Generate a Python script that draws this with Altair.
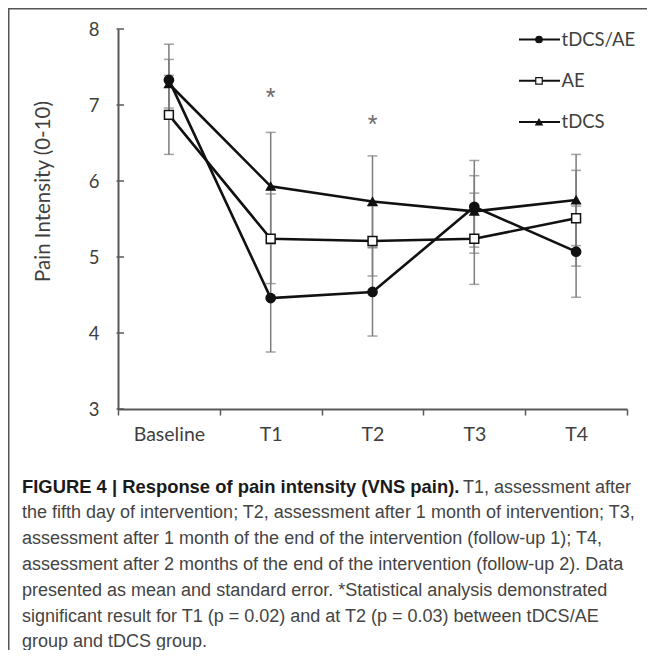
import altair as alt
import pandas as pd

# ---------------- data ----------------
categories = ["Baseline", "T1", "T2", "T3", "T4"]
series_names = ["tDCS/AE", "AE", "tDCS"]
tdcs_ae_mean = [7.33, 4.46, 4.54, 5.66, 5.07]
tdcs_ae_se = [0.47, 0.71, 0.58, 0.61, 0.60]
ae_mean = [6.87, 5.24, 5.21, 5.24, 5.51]
ae_se = [0.52, 0.59, 0.46, 0.60, 0.63]
tdcs_mean = [7.28, 5.93, 5.73, 5.60, 5.75]
tdcs_se = [0.32, 0.71, 0.60, 0.47, 0.60]
y_ticks = [3, 4, 5, 6, 7, 8]
star_categories = ["T1", "T2"]
star_values = [7.17, 6.81]
y_title = "Pain Intensity (0-10)"
caption_bold = "FIGURE 4 | Response of pain intensity (VNS pain)."
caption_first_rest = "T1, assessment after"
caption_lines = [
    "the fifth day of intervention; T2, assessment after 1 month of intervention; T3,",
    "assessment after 1 month of the end of the intervention (follow-up 1); T4,",
    "assessment after 2 months of the end of the intervention (follow-up 2). Data",
    "presented as mean and standard error. *Statistical analysis demonstrated",
    "significant result for T1 (p = 0.02) and at T2 (p = 0.03) between tDCS/AE",
    "group and tDCS group.",
]

means = [tdcs_ae_mean, ae_mean, tdcs_mean]
ses = [tdcs_ae_se, ae_se, tdcs_se]
rows = []
for s, m, e in zip(series_names, means, ses):
    for c, mv, ev in zip(categories, m, e):
        rows.append({"series": s, "cat": c, "mean": mv, "lo": mv - ev, "hi": mv + ev})
df = pd.DataFrame(rows)
stars = pd.DataFrame({"cat": star_categories, "y": star_values, "t": ["*"] * len(star_categories)})
ticks_df = pd.DataFrame({"v": y_ticks})

# ---------------- styling ----------------
W, H = 509, 380
AXC = "#595959"
LBC = "#3f3f3f"
FONT = "Lato"
shapes = ["circle", "square", "triangle-up"]
fills = ["#111111", "#ffffff", "#111111"]

xscale = alt.Scale(type="band", domain=categories, paddingInner=0, paddingOuter=0)
yscale = alt.Scale(domain=[3, 8], nice=False, zero=False)

x_axis = alt.Axis(
    title="", labelAngle=0, labelFont=FONT, labelFontSize=19.5, labelColor=LBC,
    labelPadding=10, domainColor=AXC, domainWidth=2, tickColor=AXC, tickWidth=1.5,
    tickSize=6, tickBand="extent", grid=False,
)
y_axis = alt.Axis(
    orient="left", values=y_ticks, title=y_title, ticks=False, tickSize=0,
    labelPadding=19, labelFont=FONT, labelFontSize=18.5, labelColor=LBC,
    domainColor=AXC, domainWidth=2, grid=False,
    titleFont=FONT, titleFontSize=20.5, titleFontWeight="normal", titleColor=LBC,
    titleX=-75, titleY=162, titleAngle=270, titleBaseline="middle", titleAlign="center",
)

X = alt.X("cat:N", sort=categories, scale=xscale, axis=x_axis)


def Y(field):
    return alt.Y(field, scale=yscale, axis=y_axis)


base = alt.Chart(df)

err_rule = base.mark_rule(color="#7c7c7c", strokeWidth=1.5).encode(
    x=X, y=Y("lo:Q"), y2="hi:Q"
)
err_lo = base.mark_tick(color="#7c7c7c", orient="horizontal", size=10, thickness=1.5).encode(
    x=X, y=Y("lo:Q")
)
err_hi = base.mark_tick(color="#7c7c7c", orient="horizontal", size=10, thickness=1.5).encode(
    x=X, y=Y("hi:Q")
)

lines = base.mark_line(color="#111111", strokeWidth=2.6).encode(
    x=X, y=Y("mean:Q"), detail="series:N"
)

points = base.mark_point(filled=False, stroke="#111111", strokeWidth=1.5, opacity=1).encode(
    x=X,
    y=Y("mean:Q"),
    shape=alt.Shape("series:N", scale=alt.Scale(domain=series_names, range=shapes), legend=None),
    fill=alt.Fill("series:N", scale=alt.Scale(domain=series_names, range=fills), legend=None),
    size=alt.Size("series:N", scale=alt.Scale(domain=series_names, range=[85, 72, 90]), legend=None),
)

star_layer = alt.Chart(stars).mark_text(
    font="Liberation Sans", fontSize=25, color="#6a6a6a", baseline="alphabetic", dy=14
).encode(x=X, y=Y("y:Q"), text="t:N")

# inside y-axis ticks
ytick_layer = alt.Chart(ticks_df).mark_rule(color=AXC, strokeWidth=1.5).encode(
    x=alt.value(-1.5), x2=alt.value(6), y=Y("v:Q")
)

layers = [ytick_layer, err_rule, err_lo, err_hi, lines, points, star_layer]

# legend (drawn as marks)
leg_y0, leg_dy = 10.5, 41.3
for i, name in enumerate(series_names):
    yv = leg_y0 + leg_dy * i
    ldf = pd.DataFrame({"label": [name]})
    lc = alt.Chart(ldf)
    layers.append(lc.mark_rule(color="#111111", strokeWidth=2).encode(
        x=alt.value(401), x2=alt.value(442), y=alt.value(yv)))
    layers.append(lc.mark_point(shape=shapes[i], filled=True, fill=fills[i], stroke="#111111",
                                strokeWidth=1.2, size=42, opacity=1).encode(
        x=alt.value(421), y=alt.value(yv)))
    layers.append(lc.mark_text(font=FONT, fontSize=18.5, color=LBC, align="left",
                               baseline="middle").encode(
        x=alt.value(443.5), y=alt.value(yv), text="label:N"))

# caption
cap_x = -96
cap_baselines = [463.5 + 25.8 * k for k in range(7)]
cdf = pd.DataFrame({"t": [caption_bold]})
layers.append(alt.Chart(cdf).mark_text(font="Liberation Sans", fontSize=18.4, fontWeight="bold",
                                       color="#1a1a1a", align="left", baseline="alphabetic").encode(
    x=alt.value(cap_x), y=alt.value(cap_baselines[0]), text="t:N"))
cdf2 = pd.DataFrame({"t": [caption_first_rest]})
layers.append(alt.Chart(cdf2).mark_text(font="Liberation Sans", fontSize=18,
                                        color="#444444", align="left", baseline="alphabetic").encode(
    x=alt.value(345), y=alt.value(cap_baselines[0]), text="t:N"))
for k, line in enumerate(caption_lines):
    ldf = pd.DataFrame({"t": [line]})
    layers.append(alt.Chart(ldf).mark_text(font="Liberation Sans", fontSize=18,
                                           color="#444444", align="left", baseline="alphabetic").encode(
        x=alt.value(cap_x), y=alt.value(cap_baselines[k + 1]), text="t:N"))

# frame lines (top and left)
fdf = pd.DataFrame({"f": [1]})
layers.append(alt.Chart(fdf).mark_rule(color="#555555", strokeWidth=1.5).encode(
    x=alt.value(-109.25), x2=alt.value(-109.25), y=alt.value(-21), y2=alt.value(621)))
layers.append(alt.Chart(fdf).mark_rule(color="#555555", strokeWidth=1.5).encode(
    x=alt.value(-110), x2=alt.value(529), y=alt.value(-20.25), y2=alt.value(-20.25)))

chart = alt.layer(*layers).properties(
    width=W, height=H,
    autosize=alt.AutoSizeParams(type="none"),
    padding={"left": 110, "top": 21, "right": 20, "bottom": 241},
    background="white",
).configure_view(stroke=None)

chart.save("out.html", embed_options={"renderer": "svg", "actions": False})
